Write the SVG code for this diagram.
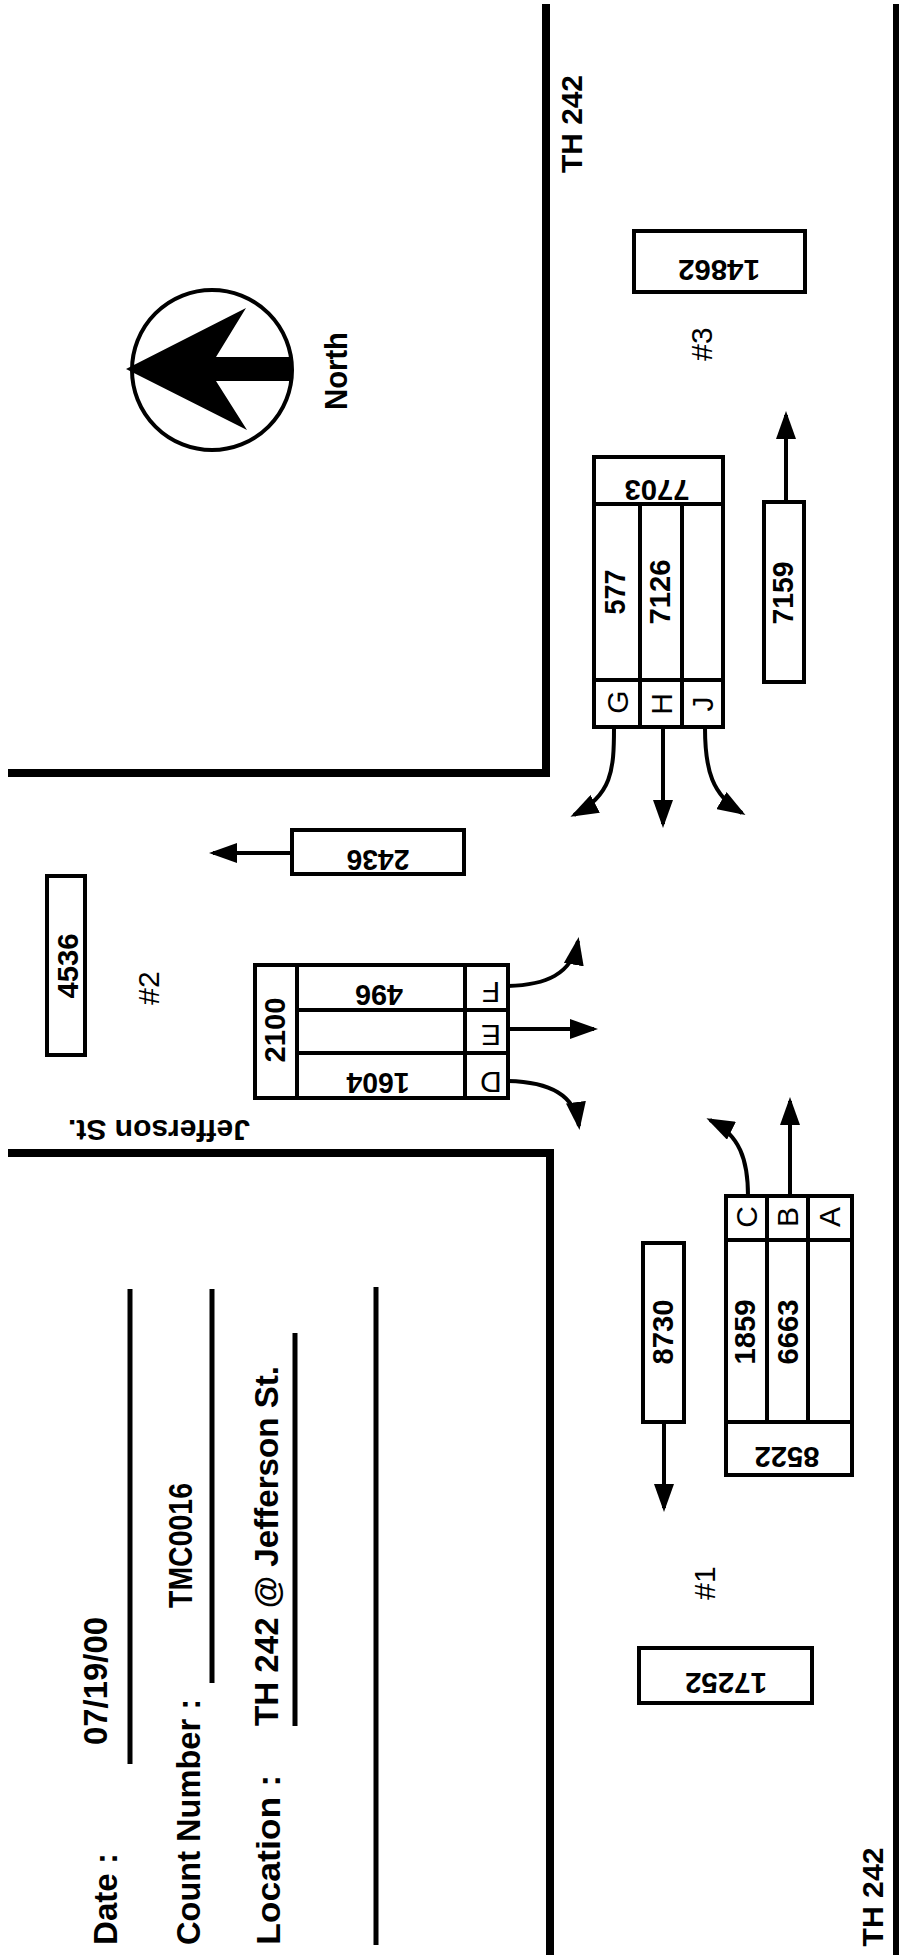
<svg xmlns="http://www.w3.org/2000/svg" width="900" height="1955" viewBox="0 0 900 1955">
<style>
.road{stroke:#000;stroke-width:8;fill:none;stroke-linejoin:miter}
.edge{stroke:#000;stroke-width:6;fill:none}
.ul{stroke:#000;stroke-width:5;fill:none}
.box{fill:#fff;stroke:#000;stroke-width:4}
.dv{stroke:#000;stroke-width:4;fill:none}
.conn{stroke:#000;stroke-width:4;fill:none;marker-end:url(#ah)}
.t{font-family:"Liberation Sans",Arial,sans-serif;fill:#000}
.b{font-weight:bold}
.n{font-weight:normal}
.num{font-size:29px;font-weight:bold}
.lt{font-size:30px;font-weight:normal}
.hd{font-size:34px;font-weight:bold}
</style>
<defs>
<marker id="ah" markerUnits="userSpaceOnUse" markerWidth="28" markerHeight="20" refX="24" refY="10" orient="auto" viewBox="0 0 28 20">
<path d="M0,0 L28,10 L0,20 Z" fill="#000"/>
</marker>
</defs>
<rect width="900" height="1955" fill="#fff"/>

<g id="roads">
<polyline class="road" points="546,4 546,773 8,773"/>
<polyline class="road" points="8,1153 550,1153 550,1955"/>
<line class="edge" x1="896" y1="4" x2="896" y2="1955"/>
<text class="t b" font-size="30" transform="translate(582,124) rotate(-90)" text-anchor="middle" textLength="98" lengthAdjust="spacingAndGlyphs">TH 242</text>
<text class="t b" font-size="30" transform="translate(883,1897) rotate(-90)" text-anchor="middle" textLength="99" lengthAdjust="spacingAndGlyphs">TH 242</text>
<text class="t b" font-size="29" transform="translate(159,1120) rotate(180)" text-anchor="middle" textLength="182" lengthAdjust="spacingAndGlyphs">Jefferson St.</text>
</g>

<g id="north">
<circle cx="212" cy="370" r="80" fill="none" stroke="#000" stroke-width="4"/>
<polygon points="126,369 246,308 216,357 293,357 293,381 216,381 247,430" fill="#000"/>
<text class="t b" font-size="31" transform="translate(347,371) rotate(-90)" text-anchor="middle" textLength="78" lengthAdjust="spacingAndGlyphs">North</text>
</g>

<g id="header">
<text class="t hd" transform="translate(117,1945) rotate(-90)" textLength="92" lengthAdjust="spacingAndGlyphs">Date :</text>
<text class="t hd" transform="translate(107,1745) rotate(-90)" textLength="128" lengthAdjust="spacingAndGlyphs">07/19/00</text>
<line class="ul" x1="130" y1="1289" x2="130" y2="1764"/>
<text class="t hd" transform="translate(200,1945) rotate(-90)" textLength="246" lengthAdjust="spacingAndGlyphs">Count Number :</text>
<text class="t hd" transform="translate(192,1608) rotate(-90)" textLength="125" lengthAdjust="spacingAndGlyphs">TMC0016</text>
<line class="ul" x1="212" y1="1289" x2="212" y2="1683"/>
<text class="t hd" transform="translate(280,1945) rotate(-90)" textLength="170" lengthAdjust="spacingAndGlyphs">Location :</text>
<text class="t hd" transform="translate(278,1726) rotate(-90)" textLength="360" lengthAdjust="spacingAndGlyphs">TH 242 @ Jefferson St.</text>
<line class="ul" x1="295" y1="1333" x2="295" y2="1726"/>
<line class="ul" x1="376" y1="1287" x2="376" y2="1945"/>
</g>

<g id="approach3">
<rect class="box" x="634" y="231" width="171" height="61"/>
<text class="t num" transform="translate(719,260) rotate(180)" text-anchor="middle" textLength="82" lengthAdjust="spacingAndGlyphs">14862</text>
<text class="t n" font-size="30" transform="translate(712,344) rotate(-90)" text-anchor="middle">#3</text>
<rect class="box" x="764" y="502" width="40" height="180"/>
<text class="t num" transform="translate(793,593) rotate(-90)" text-anchor="middle" textLength="63" lengthAdjust="spacingAndGlyphs">7159</text>
<rect class="box" x="594" y="457" width="129" height="270"/>
<line class="dv" x1="594" y1="504" x2="723" y2="504"/>
<line class="dv" x1="594" y1="680" x2="723" y2="680"/>
<line class="dv" x1="640" y1="504" x2="640" y2="727"/>
<line class="dv" x1="682" y1="504" x2="682" y2="727"/>
<text class="t num" transform="translate(657,480) rotate(180)" text-anchor="middle" textLength="65" lengthAdjust="spacingAndGlyphs">7703</text>
<text class="t num" transform="translate(625,592) rotate(-90)" text-anchor="middle" textLength="45" lengthAdjust="spacingAndGlyphs">577</text>
<text class="t num" transform="translate(670,592) rotate(-90)" text-anchor="middle" textLength="65" lengthAdjust="spacingAndGlyphs">7126</text>
<text class="t lt" transform="translate(628,702) rotate(-90)" text-anchor="middle">G</text>
<text class="t lt" transform="translate(672,704) rotate(-90)" text-anchor="middle">H</text>
<text class="t lt" transform="translate(713,704) rotate(-90)" text-anchor="middle">J</text>
</g>

<g id="approach2">
<rect class="box" x="292" y="830" width="172" height="44"/>
<text class="t num" transform="translate(378,850) rotate(180)" text-anchor="middle" textLength="63" lengthAdjust="spacingAndGlyphs">2436</text>
<rect class="box" x="47" y="876" width="38" height="179"/>
<text class="t num" transform="translate(78,966) rotate(-90)" text-anchor="middle" textLength="65" lengthAdjust="spacingAndGlyphs">4536</text>
<text class="t n" font-size="30" transform="translate(159,988) rotate(-90)" text-anchor="middle">#2</text>
<rect class="box" x="255" y="965" width="253" height="133"/>
<line class="dv" x1="297" y1="965" x2="297" y2="1098"/>
<line class="dv" x1="465" y1="965" x2="465" y2="1098"/>
<line class="dv" x1="297" y1="1010" x2="508" y2="1010"/>
<line class="dv" x1="297" y1="1053" x2="508" y2="1053"/>
<text class="t num" transform="translate(285,1030) rotate(-90)" text-anchor="middle" textLength="65" lengthAdjust="spacingAndGlyphs">2100</text>
<text class="t num" transform="translate(379,985) rotate(180)" text-anchor="middle" textLength="48" lengthAdjust="spacingAndGlyphs">496</text>
<text class="t num" transform="translate(378,1073) rotate(180)" text-anchor="middle" textLength="63" lengthAdjust="spacingAndGlyphs">1604</text>
<text class="t lt" transform="translate(491,982) rotate(180)" text-anchor="middle">F</text>
<text class="t lt" transform="translate(491,1025) rotate(180)" text-anchor="middle">E</text>
<text class="t lt" transform="translate(491,1072) rotate(180)" text-anchor="middle">D</text>
</g>

<g id="approach1">
<rect class="box" x="726" y="1196" width="126" height="279"/>
<line class="dv" x1="726" y1="1240" x2="852" y2="1240"/>
<line class="dv" x1="726" y1="1422" x2="852" y2="1422"/>
<line class="dv" x1="767" y1="1196" x2="767" y2="1422"/>
<line class="dv" x1="808" y1="1196" x2="808" y2="1422"/>
<text class="t lt" transform="translate(757,1217) rotate(-90)" text-anchor="middle">C</text>
<text class="t lt" transform="translate(798,1217) rotate(-90)" text-anchor="middle">B</text>
<text class="t lt" transform="translate(840,1217) rotate(-90)" text-anchor="middle">A</text>
<text class="t num" transform="translate(755,1332) rotate(-90)" text-anchor="middle" textLength="65" lengthAdjust="spacingAndGlyphs">1859</text>
<text class="t num" transform="translate(798,1332) rotate(-90)" text-anchor="middle" textLength="65" lengthAdjust="spacingAndGlyphs">6663</text>
<text class="t num" transform="translate(787,1447) rotate(180)" text-anchor="middle" textLength="65" lengthAdjust="spacingAndGlyphs">8522</text>
<rect class="box" x="643" y="1243" width="41" height="179"/>
<text class="t num" transform="translate(673,1332) rotate(-90)" text-anchor="middle" textLength="65" lengthAdjust="spacingAndGlyphs">8730</text>
<text class="t n" font-size="30" transform="translate(715,1583) rotate(-90)" text-anchor="middle">#1</text>
<rect class="box" x="639" y="1648" width="173" height="55"/>
<text class="t num" transform="translate(726,1673) rotate(180)" text-anchor="middle" textLength="82" lengthAdjust="spacingAndGlyphs">17252</text>
</g>

<g id="connectors">
<path class="conn" d="M786,502 L786,415"/>
<path class="conn" d="M614,728 C614,770 612,795 574,815"/>
<path class="conn" d="M663,728 L663,824"/>
<path class="conn" d="M705,728 C705,770 712,795 742,813"/>
<path class="conn" d="M292,853 L213,853"/>
<path class="conn" d="M508,986 C545,985 572,975 578,941"/>
<path class="conn" d="M508,1029 L594,1029"/>
<path class="conn" d="M508,1081 C550,1082 575,1095 579,1126"/>
<path class="conn" d="M748,1196 C748,1160 740,1135 710,1120"/>
<path class="conn" d="M790,1196 L790,1101"/>
<path class="conn" d="M664,1422 L664,1508"/>
</g>
</svg>
